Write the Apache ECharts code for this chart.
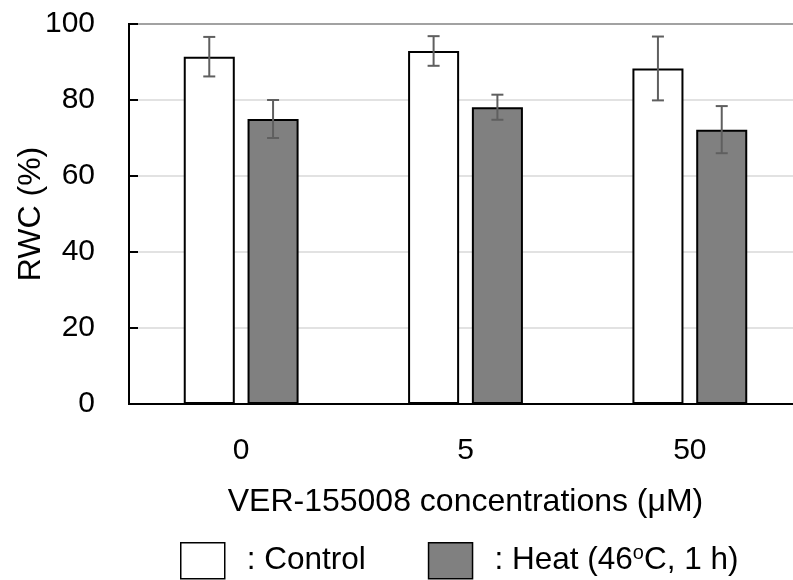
<!DOCTYPE html>
<html>
<head>
<meta charset="utf-8">
<script src="https://cdn.jsdelivr.net/npm/echarts@6/dist/echarts.min.js"></script>
<style>html,body{margin:0;padding:0;background:#fff}#c{width:793px;height:580px}</style>
</head>
<body>
<div id="c"></div>
<script>
// ---- data ----
var categories = ['0', '5', '50'];
var controlMean = [91.4, 92.9, 88.3];
var controlSD   = [5.2, 3.9, 8.4];
var heatMean    = [75.0, 78.1, 72.2];
var heatSD      = [5.0, 3.3, 6.2];
var yTicks = { min: 0, max: 100, interval: 20 };
var seriesNames = ['Control', 'Heat'];

var FONT = 'Liberation Sans, Arial, sans-serif';
var BAR_FRAC = 0.2275;   // bar width as fraction of category band
var GAP_FRAC = 0.25;     // gap between bars relative to bar width

function errData(mean, sd) {
  return mean.map(function (m, i) { return [i, m - sd[i], m + sd[i]]; });
}
function errSeries(name, mean, sd, side) {
  return {
    type: 'custom',
    name: name + ' err',
    z: 10,
    silent: true,
    data: errData(mean, sd),
    renderItem: function (params, api) {
      var i = api.value(0);
      var lo = api.coord([i, api.value(1)]);
      var hi = api.coord([i, api.value(2)]);
      var band = api.size([1, 0])[0];
      var off = side * band * BAR_FRAC * (1 + GAP_FRAC) / 2;
      var x = lo[0] + off;
      var cap = 6;
      var st = { stroke: '#5f5f5f', lineWidth: 2 };
      return {
        type: 'group',
        children: [
          { type: 'line', shape: { x1: x, y1: lo[1], x2: x, y2: hi[1] }, style: st },
          { type: 'line', shape: { x1: x - cap, y1: lo[1], x2: x + cap, y2: lo[1] }, style: st },
          { type: 'line', shape: { x1: x - cap, y1: hi[1], x2: x + cap, y2: hi[1] }, style: st }
        ]
      };
    }
  };
}

var chart = echarts.init(document.getElementById('c'), null, { renderer: 'canvas' });
chart.setOption({
  animation: false,
  backgroundColor: '#fff',
  textStyle: { fontFamily: FONT },
  grid: {
    left: 129, top: 24, right: -9, bottom: 176,
    outerBoundsMode: 'none', containLabel: false,
    show: true, borderColor: '#000', borderWidth: 2, backgroundColor: 'transparent'
  },
  legend: {
    data: seriesNames,
    left: 180, top: 542, padding: 0,
    itemWidth: 44, itemHeight: 36, itemGap: 62,
    icon: 'rect',
    selectedMode: false,
    formatter: function (n) {
      return n === 'Control' ? ': Control' : ': Heat (46{sup|o}C, 1 h)';
    },
    itemStyle: { borderColor: '#000', borderWidth: 1.5 },
    textStyle: {
      fontFamily: FONT, fontSize: 31.5, color: '#000', padding: [0, 0, 0, 17],
      rich: { sup: { fontSize: 20, fontFamily: FONT, color: '#000', padding: [0, 0, 14, 0] } }
    }
  },
  xAxis: {
    type: 'category',
    data: categories,
    name: 'VER-155008 concentrations (\u03bcM)',
    nameLocation: 'middle',
    nameGap: 82,
    nameMoveOverlap: false,
    nameTextStyle: { fontFamily: FONT, fontSize: 32, color: '#000' },
    axisLine: { lineStyle: { color: '#000', width: 2 } },
    axisTick: { show: false },
    axisLabel: { fontFamily: FONT, fontSize: 30, color: '#000', margin: 32 },
    splitLine: { show: false }
  },
  yAxis: {
    type: 'value',
    min: yTicks.min, max: yTicks.max, interval: yTicks.interval,
    name: 'RWC (%)',
    nameLocation: 'middle',
    nameGap: 82,
    nameRotate: 90,
    nameMoveOverlap: false,
    nameTextStyle: { fontFamily: FONT, fontSize: 32, color: '#000' },
    axisLine: { show: true, lineStyle: { color: '#000', width: 2 } },
    axisTick: { show: true, inside: true, length: 9, lineStyle: { color: '#000', width: 2 } },
    axisLabel: { fontFamily: FONT, fontSize: 30, color: '#000', margin: 34 },
    splitLine: { show: true, lineStyle: { color: '#d9d9d9', width: 1.5 } }
  },
  series: [
    {
      name: 'Control', type: 'bar', data: controlMean,
      barWidth: (BAR_FRAC * 100) + '%', barGap: (GAP_FRAC * 100) + '%',
      itemStyle: { color: '#ffffff', borderColor: '#000', borderWidth: 2 }
    },
    {
      name: 'Heat', type: 'bar', data: heatMean,
      barWidth: (BAR_FRAC * 100) + '%', barGap: (GAP_FRAC * 100) + '%',
      itemStyle: { color: '#808080', borderColor: '#000', borderWidth: 2 }
    },
    errSeries('Control', controlMean, controlSD, -1),
    errSeries('Heat', heatMean, heatSD, 1)
  ]
});
</script>
</body>
</html>
